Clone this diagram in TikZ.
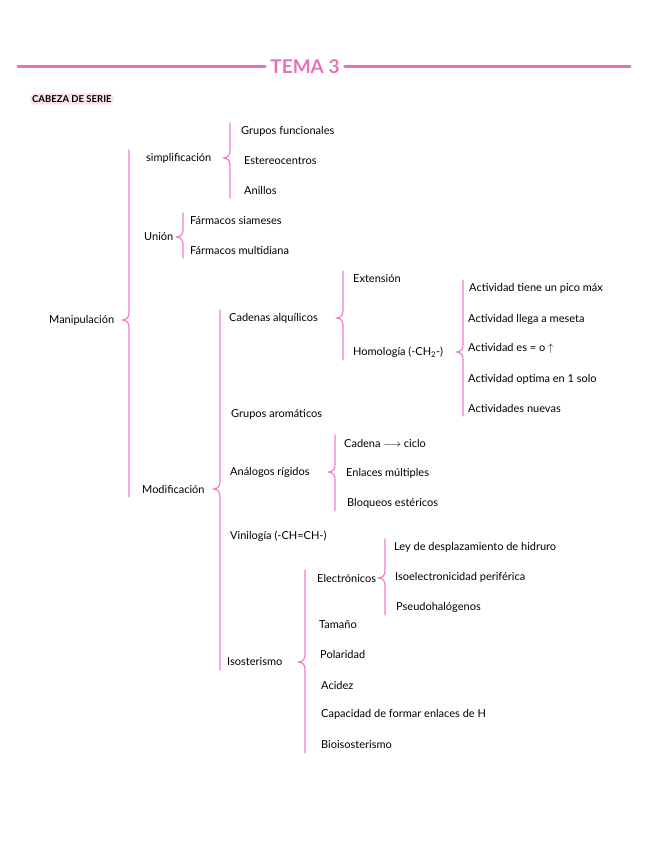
\documentclass[tikz,border=0pt]{standalone}
\usepackage{fontspec}
\setmainfont{Lato}
\usepackage{tikz}
\usetikzlibrary{calc}

\definecolor{rosa}{HTML}{E872BA}
\definecolor{rosaclaro}{HTML}{F07CCB}
\definecolor{fondorosa}{HTML}{FBE0EE}

% llave: x de la llave, padre, primer hijo, ultimo hijo
\newcommand{\llave}[4]{%
    \draw[llave] let \p1=(#2.west), \p2=(#3.west), \p3=(#4.west) in
        ({#1pt},{\y2+8pt}) -- ({#1pt},{\y1+7pt})
        .. controls ({#1pt},{\y1+2pt}) and ({#1pt-3pt},{\y1}) .. ({#1pt-7pt},{\y1})
        .. controls ({#1pt-3pt},{\y1}) and ({#1pt},{\y1-2pt}) .. ({#1pt},{\y1-7pt})
        -- ({#1pt},{\y3-8pt});}

\begin{document}
\begin{tikzpicture}[x=1pt,y=-1pt,
    item/.style={anchor=west,inner sep=1pt,font=\fontsize{11}{13}\selectfont},
    llave/.style={rosaclaro,line width=1.2pt,line cap=round,line join=round},
    titulo/.style={rosa,line width=3pt,line cap=round}]
    \useasboundingbox (0,0) rectangle (646,848);
    % Titulo
    \node[text=rosa,font=\fontsize{19}{19}\bfseries\selectfont,inner sep=5pt] (tema) at (305,67) {TEMA 3};
    \coordinate (izq) at (18,67);
    \coordinate (der) at (630,67);
    \draw[titulo] (izq) -- (tema);
    \draw[titulo] (tema) -- (der);
    \node[anchor=west,fill=fondorosa,rounded corners=4pt,inner sep=2pt,
        font=\fontsize{9.5}{9.5}\bfseries\selectfont] (cabeza) at (30,99) {CABEZA DE SERIE};
    % Nivel 1
    \node[item] (manip) at (48,320) {Manipulación};
    \node[item] (simp) at (145,158) {simplificación};
    \node[item] (union) at (143,237) {Unión};
    \node[item] (modif) at (141,489) {Modificación};
    \llave{129}{manip}{simp}{modif}
    % Simplificacion
    \node[item] (funcionales) at (240,131) {Grupos funcionales};
    \node[item] (estereo) at (243,161) {Estereocentros};
    \node[item] (anillos) at (243,190) {Anillos};
    \llave{230}{simp}{funcionales}{anillos}
    % Union
    \node[item] (siameses) at (189,221) {Fármacos siameses};
    \node[item] (multidiana) at (189,250) {Fármacos multidiana};
    \llave{183}{union}{siameses}{multidiana}
    % Modificacion
    \node[item] (cadenas) at (228,318) {Cadenas alquílicos};
    \node[item] (aromaticos) at (230,414) {Grupos aromáticos};
    \node[item] (rigidos) at (229,472) {Análogos rígidos};
    \node[item] (vinilogia) at (229,536) {Vinilogía (-CH=CH-)};
    \node[item] (isoster) at (226,662) {Isosterismo};
    \llave{220}{modif}{cadenas}{isoster}
    % Cadenas alquilicos
    \node[item] (extension) at (352,279) {Extensión};
    \node[item] (homologia) at (352,352) {Homología (-CH\textsubscript{2}-)};
    \llave{343}{cadenas}{extension}{homologia}
    \node[item] (pico) at (468,288) {Actividad tiene un pico máx};
    \node[item] (meseta) at (467,319) {Actividad llega a meseta};
    \node[item] (igual) at (467,349) {Actividad es = o $\uparrow$};
    \node[item] (optima) at (467,379) {Actividad optima en 1 solo};
    \node[item] (nuevas) at (467,408) {Actividades nuevas};
    \llave{463}{homologia}{pico}{nuevas}
    % Analogos rigidos
    \node[item] (ciclo) at (343,443) {Cadena $\longrightarrow$ ciclo};
    \node[item] (multiples) at (345,473) {Enlaces múltiples};
    \node[item] (estericos) at (346,503) {Bloqueos estéricos};
    \llave{335}{rigidos}{ciclo}{estericos}
    % Isosterismo
    \node[item] (electronicos) at (316,578) {Electrónicos};
    \node[item] (tamano) at (318,625) {Tamaño};
    \node[item] (polaridad) at (319,654) {Polaridad};
    \node[item] (acidez) at (320,685) {Acidez};
    \node[item] (puentes) at (320,714) {Capacidad de formar enlaces de H};
    \node[item] (bioiso) at (320,745) {Bioisosterismo};
    \llave{305}{isoster}{electronicos}{bioiso}
    \node[item] (hidruro) at (393,547) {Ley de desplazamiento de hidruro};
    \node[item] (periferica) at (394,577) {Isoelectronicidad periférica};
    \node[item] (pseudo) at (395,607) {Pseudohalógenos};
    \llave{385}{electronicos}{hidruro}{pseudo}
\end{tikzpicture}
\end{document}
